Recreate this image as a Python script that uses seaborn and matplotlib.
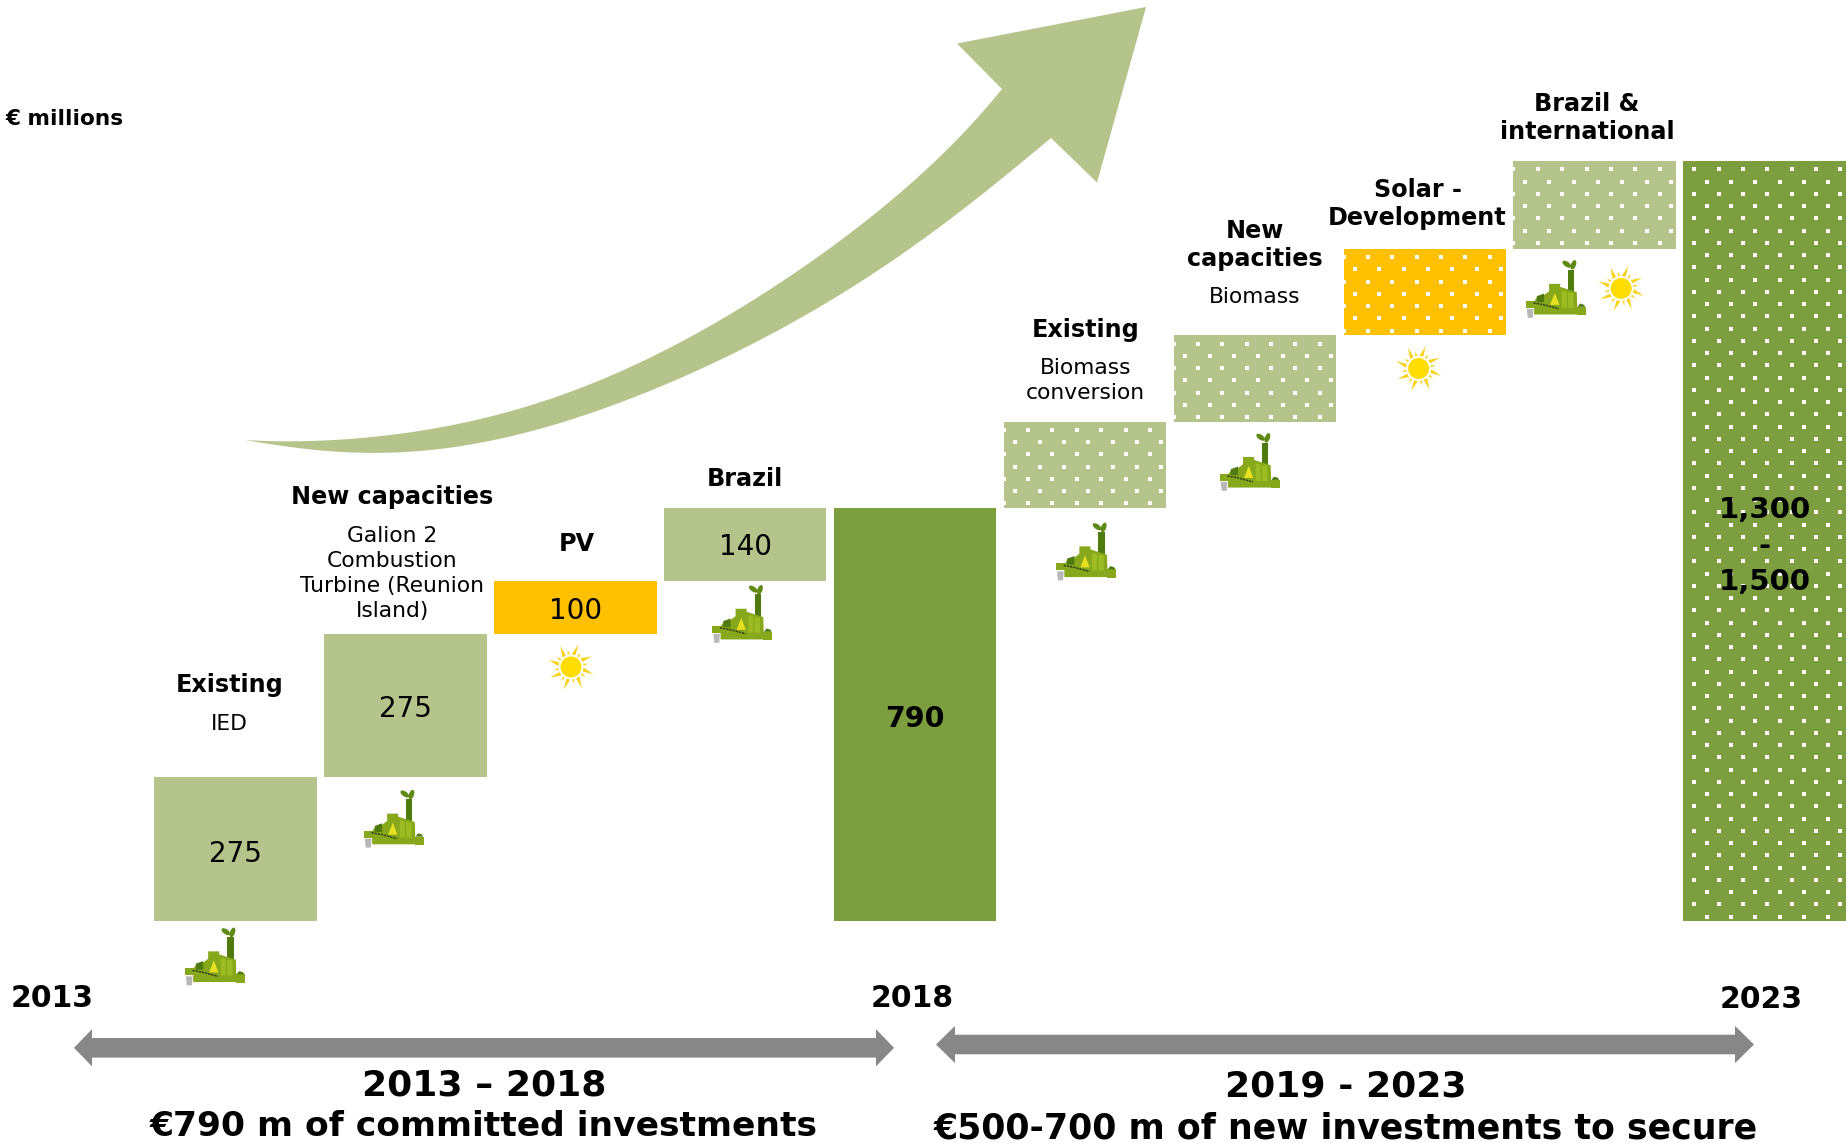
import numpy as np
import pandas as pd
import seaborn as sns
import matplotlib
matplotlib.use("Agg")
import matplotlib.pyplot as plt
from matplotlib.patches import Polygon, Ellipse, Circle

# Investment steps in EUR millions
steps = ["Existing IED", "New capacities", "PV", "Brazil", "2018 total",
         "Existing conversion", "New biomass", "Solar development", "Brazil & international", "2023 total"]
values = [275, 275, 100, 140, 790, 166, 165, 166, 168, 1455]
bottoms = [0, 275, 550, 650, 0, 790, 956, 1121, 1287, 0]
value_labels = ["275", "275", "100", "140", "790", None, None, None, None, "1,300\n-\n1,500"]
value_label_heights = [128, 405, 593, 716, 386, None, None, None, None, 718]
bold_values = [False, False, False, False, True, False, False, False, False, True]

LIGHT = "#B5C48B"
DARK = "#7C9E3E"
AMBER = "#FFC000"
GREY = "#878787"
bar_colors = [LIGHT, LIGHT, AMBER, LIGHT, DARK, LIGHT, LIGHT, AMBER, LIGHT, DARK]
dotted = [False] * 5 + [True] * 5

W, H = 1846, 1143
PX_PER_UNIT = 0.522
BASE_PX = 920.6
STEP_PX = 169.9
FIRST_CENTRE_PX = 235.5
S = W / 1568  # label and icon positions below are on a 1568-wide grid

sns.set_theme(style="white")
plt.rcParams["font.family"] = ["DejaVu Sans"]

fig = plt.figure(figsize=(W / 100, H / 100), dpi=100, facecolor="white")
ax = fig.add_axes([0, 0, 1, 1])

frame = pd.DataFrame({"step": steps, "value": values})
sns.barplot(data=frame, x="step", y="value", order=steps, width=0.956, color=LIGHT,
            saturation=1, errorbar=None, ax=ax, linewidth=0)
bars = list(ax.patches)
for patch, low, colour in zip(bars, bottoms, bar_colors):
    patch.set_y(low)
    patch.set_facecolor(colour)
ax.set_xlim(-FIRST_CENTRE_PX / STEP_PX, (W - FIRST_CENTRE_PX) / STEP_PX)
ax.set_ylim(-(H - BASE_PX) / PX_PER_UNIT, BASE_PX / PX_PER_UNIT)
ax.axis("off")

# Overlay in pixel space for annotation shapes
ov = fig.add_axes([0, 0, 1, 1], facecolor="none")
ov.set_xlim(0, W)
ov.set_ylim(H, 0)
ov.axis("off")


def add_dots(patch, phase):
    """Staggered white square dots inside a bar, placed in data units."""
    left, right = patch.get_x(), patch.get_x() + patch.get_width()
    low, high = patch.get_y(), patch.get_y() + patch.get_height()
    xs, ys = [], []
    y = high - 8.3 / PX_PER_UNIT
    row = 0
    while y > low + 1.5 / PX_PER_UNIT:
        x = left + phase[row % 2] / STEP_PX
        while x < right:
            if x >= left:
                xs.append(x)
                ys.append(y)
            x += 24.35 / STEP_PX
        y -= 12.25 / PX_PER_UNIT
        row += 1
    ax.scatter(xs, ys, marker="s", s=6.5, color="white", linewidths=0, zorder=3)


for i, (patch, flag) in enumerate(zip(bars, dotted)):
    if flag:
        add_dots(patch, (11, -1 + 24.35) if i == 9 else (0, 11.5))


def factory(x0, y0):
    """Small green power-plant pictogram, x0/y0 its top-left in pixels."""
    def P(pts):
        return [(x0 + (a - 135) / 3, y0 + (b - 82) / 3) for a, b in pts]

    ov.add_patch(Polygon(P([(262, 110), (281, 110), (281, 185), (262, 185)]), color="#4F7A10", lw=0))
    for cx, cy, ang in [(258, 94, 35), (278, 96, -70)]:
        ov.add_patch(Ellipse(P([(cx, cy)])[0], 10, 5, angle=ang, color="#5E8A14", lw=0))
    ov.add_patch(Polygon(P([(160, 245), (160, 205), (172, 190), (188, 188), (205, 175), (205, 153),
                            (238, 153), (238, 162), (288, 178), (290, 245)]), color="#86A81A", lw=0))
    ov.add_patch(Polygon(P([(168, 190), (190, 182), (190, 208), (168, 208)]), color="#4F7A10", lw=0))
    ov.add_patch(Polygon(P([(243, 172), (258, 176), (258, 225), (243, 225)]), color="#9DBB22", lw=0))
    ov.add_patch(Polygon(P([(262, 178), (278, 180), (278, 225), (262, 225)]), color="#9DBB22", lw=0))
    ov.add_patch(Polygon(P([(222, 180), (236, 216), (208, 216)]), color="#E6E020", lw=0))
    ov.add_patch(Polygon(P([(135, 204), (162, 204), (162, 225), (135, 225)]), color="#86A81A", lw=0))
    ov.add_patch(Polygon(P([(288, 222), (315, 222), (315, 247), (288, 247)]), color="#86A81A", lw=0))
    ov.add_patch(Polygon(P([(290, 222), (298, 212), (310, 216), (313, 222)]), color="#4F7A10", lw=0))
    ov.add_patch(Polygon(P([(138, 228), (158, 228), (156, 255), (141, 255)]), color="#B8B8B8", lw=0))
    a, b = zip(*P([(158, 210), (190, 216), (235, 228)]))
    ov.plot(a, b, color="#33401A", lw=1.1, ls=(0, (1.5, 0.6)))


def sun(cx, cy):
    """Sun pictogram with long and short alternating rays."""
    for k in range(16):
        ang = np.radians(k * 22.5 + 12)
        long_ray = k % 2 == 0
        r0, r1 = (12.5, 23.5) if long_ray else (12.5, 17.5)
        half = 2.0 if long_ray else 1.1
        tx, ty = np.cos(ang), np.sin(ang)
        nx, ny = -ty, tx
        bend = 2.5 if long_ray else 0
        pts = [(cx + r0 * tx + half * nx, cy + r0 * ty + half * ny),
               (cx + r0 * tx - half * nx, cy + r0 * ty - half * ny),
               (cx + r1 * tx + bend * nx, cy + r1 * ty + bend * ny)]
        ov.add_patch(Polygon(pts, color="#F7D21A", lw=0))
    ov.add_patch(Circle((cx, cy), 10.5, color="#FFDD00", lw=0))


for fx, fy in [(157, 788), (309, 671), (605, 497), (897, 444), (1036, 368), (1296, 221)]:
    factory(fx * S, fy * S)
for sx, sy in [(485, 566.5), (1205, 313), (1377, 245)]:
    sun(sx * S, sy * S)


def fitted_edge(points, degree=6):
    """Smooth an outline with a polynomial, pinned at its two end points."""
    pts = np.array(points, float)
    x = (pts[:, 0] - 625) / 400
    weights = np.ones(len(pts))
    weights[[0, -1]] = 30
    coef = np.polyfit(x, pts[:, 1], degree, w=weights)
    xs = np.linspace(pts[0, 0], pts[-1, 0], 90)
    return list(zip(xs, np.polyval(coef, (xs - 625) / 400)))


# Large curved growth arrow
upper_edge = [(245, 440), (307, 441), (363, 438), (413, 432), (460, 423), (517, 410), (583, 387),
              (650, 357), (717, 322), (750, 303), (817, 257), (883, 207), (950, 147), (1002, 89)]
arrow_head = [(957, 43.5), (1146, 7), (1097, 182.5), (1051, 138)]
lower_edge = [(1051, 138), (1017, 168), (950, 220), (883, 263), (817, 310), (750, 347), (717, 363),
              (650, 388), (583, 415), (517, 435), (460, 447), (413, 452), (363, 453), (307, 448), (245, 440)]
outline = fitted_edge(upper_edge) + arrow_head + fitted_edge(lower_edge)
ov.add_patch(Polygon(outline, closed=True, facecolor=LIGHT, lw=0))


def span_arrow(tip_l, body_l, body_r, tip_r, yc):
    ov.add_patch(Polygon([(tip_l, yc), (body_l, yc - 18.6), (body_l, yc - 9.8), (body_r, yc - 9.8),
                          (body_r, yc - 18.6), (tip_r, yc), (body_r, yc + 18.6), (body_r, yc + 9.8),
                          (body_l, yc + 9.8), (body_l, yc + 18.6)], color=GREY, lw=0))


span_arrow(74, 92, 876, 894, 1047.8)
span_arrow(936, 955, 1735, 1754, 1044.5)


def label(x, y, text, size=15.7, weight="normal", ls=1.3):
    ov.text(x * S, (y + 1.2) * S, text, ha="center", va="center", fontsize=size, fontweight=weight,
            linespacing=ls, color="black")


# Value labels sit on the bars themselves, above the dot pattern
for i, (txt, heavy) in enumerate(zip(value_labels, bold_values)):
    if txt is None:
        continue
    ax.text(i, value_label_heights[i], txt, ha="center", va="center", zorder=5,
            fontsize=(21 if i == 9 else 20.5) if heavy else 20, fontweight="bold" if heavy else "normal",
            linespacing=1.35, color="black")

label(55, 100, "€ millions", 15.6, "bold")
label(195, 581, "Existing", 17.2, "bold")
label(195, 614, "IED")
label(333, 421, "New capacities", 17.2, "bold")
label(333, 486, "Galion 2\nCombustion\nTurbine (Reunion\nIsland)")
label(490, 461, "PV", 17.2, "bold")
label(633, 406, "Brazil", 17.2, "bold")
label(922, 279, "Existing", 17.2, "bold")
label(922, 322, "Biomass\nconversion")
label(1066, 207, "New\ncapacities", 17.2, "bold", 1.21)
label(1066, 251, "Biomass")
label(1204, 172, "Solar -\nDevelopment", 17.2, "bold", 1.21)
label(1348, 99, "Brazil &\ninternational", 17.2, "bold", 1.21)

for x, y, yr in [(44, 847, "2013"), (775, 847, "2018"), (1496, 848, "2023")]:
    label(x, y, yr, 21.5, "bold")
label(411, 921, "2013 – 2018", 26, "bold")
label(411, 956, "€790 m of committed investments", 24.8, "bold")
label(1143, 922, "2019 - 2023", 26, "bold")
label(1143, 957, "€500-700 m of new investments to secure", 25, "bold")

fig.savefig("out.png", dpi=100, facecolor="white")
